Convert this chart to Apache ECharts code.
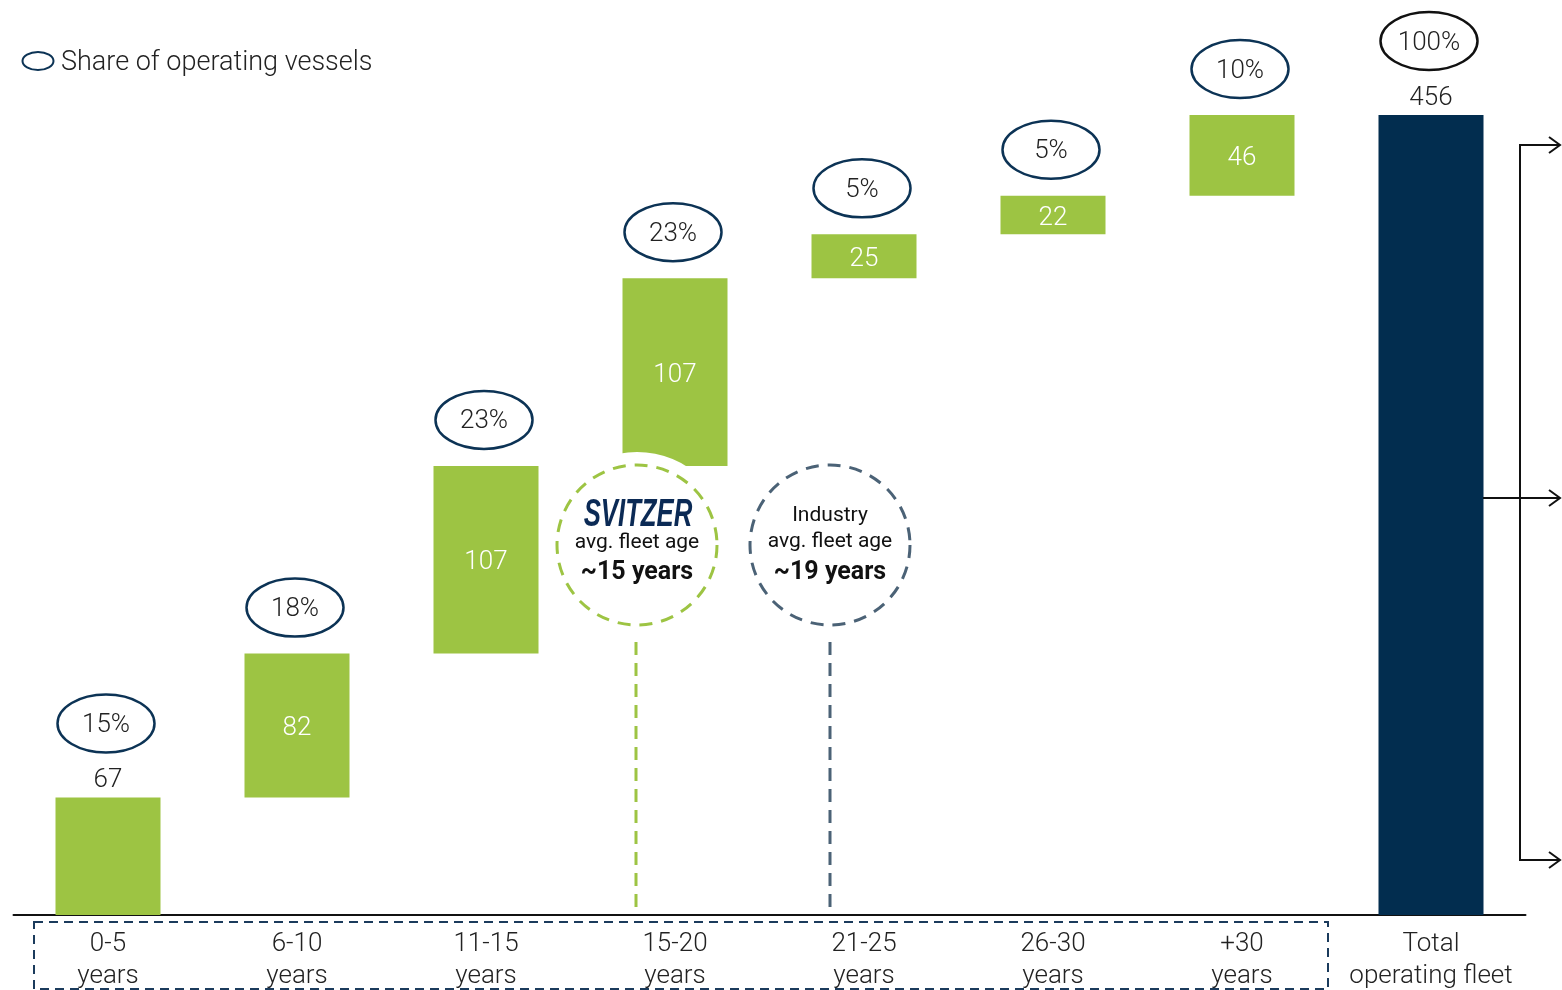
<!DOCTYPE html>
<html>
<head>
<meta charset="utf-8">
<script src="https://cdn.jsdelivr.net/npm/echarts@6/dist/echarts.min.js"></script>
<style>
  html, body { margin: 0; padding: 0; background: #fff; }
  #chart { width: 1562px; height: 990px; }
</style>
</head>
<body>
<div id="chart"></div>
<script>
// Fleet age buckets and vessel counts
const categories = ['0-5\nyears', '6-10\nyears', '11-15\nyears', '15-20\nyears', '21-25\nyears', '26-30\nyears', '+30\nyears', 'Total\noperating fleet'];
const vessels = [67, 82, 107, 107, 25, 22, 46, 456];
const shares = ['15%', '18%', '23%', '23%', '5%', '5%', '10%', '100%'];

const GREEN = '#9dc443';
const NAVY = '#022d4f';
const INK = '#222222';
const FONT = 'Roboto';

const lastIdx = vessels.length - 1;
// waterfall offsets: each bucket starts where the previous one ended; total starts at 0
const bases = [];
let run = 0;
vessels.forEach((v, i) => {
  if (i === lastIdx) { bases.push(0); }
  else { bases.push(run); run += v; }
});
const tops = vessels.map((v, i) => bases[i] + v);
const isEnd = i => i === 0 || i === lastIdx;

const chart = echarts.init(document.getElementById('chart'), null, { renderer: 'canvas' });

const option = {
  animation: false,
  grid: { left: 13.5, right: 36.5, top: 115, bottom: 75, containLabel: false, outerBoundsMode: 'none' },
  xAxis: {
    type: 'category',
    data: categories,
    axisLine: { lineStyle: { color: '#111', width: 2 } },
    axisTick: { show: false },
    axisLabel: {
      interval: 0, margin: 13, fontSize: 26, lineHeight: 32,
      color: INK, fontFamily: FONT, fontWeight: 300
    }
  },
  yAxis: { type: 'value', min: 0, max: 456, show: false, splitLine: { show: false } },
  series: [
    {
      type: 'bar', stack: 'wf', barWidth: 105, silent: true,
      itemStyle: { color: 'transparent' },
      data: bases
    },
    {
      type: 'bar', stack: 'wf', barWidth: 105,
      data: vessels.map((v, i) => ({
        value: v,
        itemStyle: { color: i === lastIdx ? NAVY : GREEN },
        label: isEnd(i)
          ? { position: 'top', distance: 4, color: INK }
          : { position: 'inside', offset: [0, 3], color: '#fff' }
      })),
      label: { show: true, fontSize: 26, fontFamily: FONT, fontWeight: 300 }
    },
    {
      // share-of-fleet ellipses floating above each bar
      type: 'custom', clip: false, z: 5,
      data: tops.map((t, i) => [i, t]),
      renderItem: (params, api) => {
        const i = params.dataIndex;
        const p = api.coord([api.value(0), api.value(1)]);
        const cy = p[1] - (isEnd(i) ? 74 : 46);
        return {
          type: 'group',
          children: [
            {
              type: 'ellipse',
              shape: { cx: p[0] - 2, cy: cy, rx: 48.5, ry: 29 },
              style: { fill: '#fff', stroke: i === lastIdx ? '#111' : '#0c3355', lineWidth: 2.5 }
            },
            {
              type: 'text',
              x: p[0] - 2, y: cy + 2,
              style: {
                text: shares[i], fontSize: 26, fontFamily: FONT, fontWeight: 300,
                fill: INK, align: 'center', verticalAlign: 'middle'
              }
            }
          ]
        };
      }
    }
  ],
  graphic: [
    // legend
    { type: 'ellipse', z: 100, shape: { cx: 38, cy: 61, rx: 15.5, ry: 9 }, style: { fill: 'none', stroke: '#0c3355', lineWidth: 2 } },
    { type: 'text', z: 100, x: 61, y: 63, style: { text: 'Share of operating vessels', fontSize: 27, fontFamily: FONT, fontWeight: 300, fill: INK, align: 'left', verticalAlign: 'middle' } },

    // Svitzer average age badge
    { type: 'circle', z: 100, shape: { cx: 637, cy: 545, r: 93 }, style: { fill: '#fff' } },
    { type: 'circle', z: 101, shape: { cx: 637, cy: 545, r: 80 }, style: { fill: '#fff', stroke: GREEN, lineWidth: 3, lineDash: [13, 9] } },
    { type: 'text', z: 102, x: 638, y: 515, scaleX: 0.66, style: { text: 'SVITZER', fontSize: 39, fontFamily: 'Liberation Sans', fontWeight: 'bold', fontStyle: 'italic', fill: '#0b2a55', align: 'center', verticalAlign: 'middle' } },
    { type: 'text', z: 102, x: 637, y: 543, style: { text: 'avg. fleet age', fontSize: 21, fontFamily: FONT, fontWeight: 400, fill: '#111', align: 'center', verticalAlign: 'middle' } },
    { type: 'text', z: 102, x: 637, y: 573, style: { text: '~15 years', fontSize: 25, fontFamily: FONT, fontWeight: 'bold', fill: '#111', align: 'center', verticalAlign: 'middle' } },
    { type: 'line', z: 100, shape: { x1: 636, y1: 642, x2: 636, y2: 908 }, style: { stroke: GREEN, lineWidth: 3, lineDash: [13, 8] } },

    // Industry average age badge
    { type: 'circle', z: 101, shape: { cx: 830, cy: 545, r: 80 }, style: { fill: '#fff', stroke: '#4b6276', lineWidth: 3, lineDash: [13, 9] } },
    { type: 'text', z: 102, x: 830, y: 516, style: { text: 'Industry', fontSize: 21, fontFamily: FONT, fontWeight: 400, fill: '#111', align: 'center', verticalAlign: 'middle' } },
    { type: 'text', z: 102, x: 830, y: 542, style: { text: 'avg. fleet age', fontSize: 21, fontFamily: FONT, fontWeight: 400, fill: '#111', align: 'center', verticalAlign: 'middle' } },
    { type: 'text', z: 102, x: 830, y: 573, style: { text: '~19 years', fontSize: 25, fontFamily: FONT, fontWeight: 'bold', fill: '#111', align: 'center', verticalAlign: 'middle' } },
    { type: 'line', z: 100, shape: { x1: 830, y1: 642, x2: 830, y2: 908 }, style: { stroke: '#4b6276', lineWidth: 3, lineDash: [13, 8] } },

    // dashed frame around the age buckets
    { type: 'rect', z: 100, shape: { x: 34, y: 922, width: 1294, height: 67 }, style: { fill: 'none', stroke: '#1b3b5c', lineWidth: 2, lineDash: [9, 6] } },

    // split arrows to the right of the total bar
    { type: 'polyline', z: 100, shape: { points: [[1560, 145], [1520, 145], [1520, 860], [1560, 860]] }, style: { fill: 'none', stroke: '#111', lineWidth: 2 } },
    { type: 'line', z: 100, shape: { x1: 1483, y1: 498, x2: 1560, y2: 498 }, style: { stroke: '#111', lineWidth: 2 } },
    { type: 'polyline', z: 100, shape: { points: [[1549, 137], [1560, 145], [1549, 153]] }, style: { fill: 'none', stroke: '#111', lineWidth: 2 } },
    { type: 'polyline', z: 100, shape: { points: [[1549, 490], [1560, 498], [1549, 506]] }, style: { fill: 'none', stroke: '#111', lineWidth: 2 } },
    { type: 'polyline', z: 100, shape: { points: [[1549, 852], [1560, 860], [1549, 868]] }, style: { fill: 'none', stroke: '#111', lineWidth: 2 } }
  ]
};

chart.setOption(option);
</script>
</body>
</html>
